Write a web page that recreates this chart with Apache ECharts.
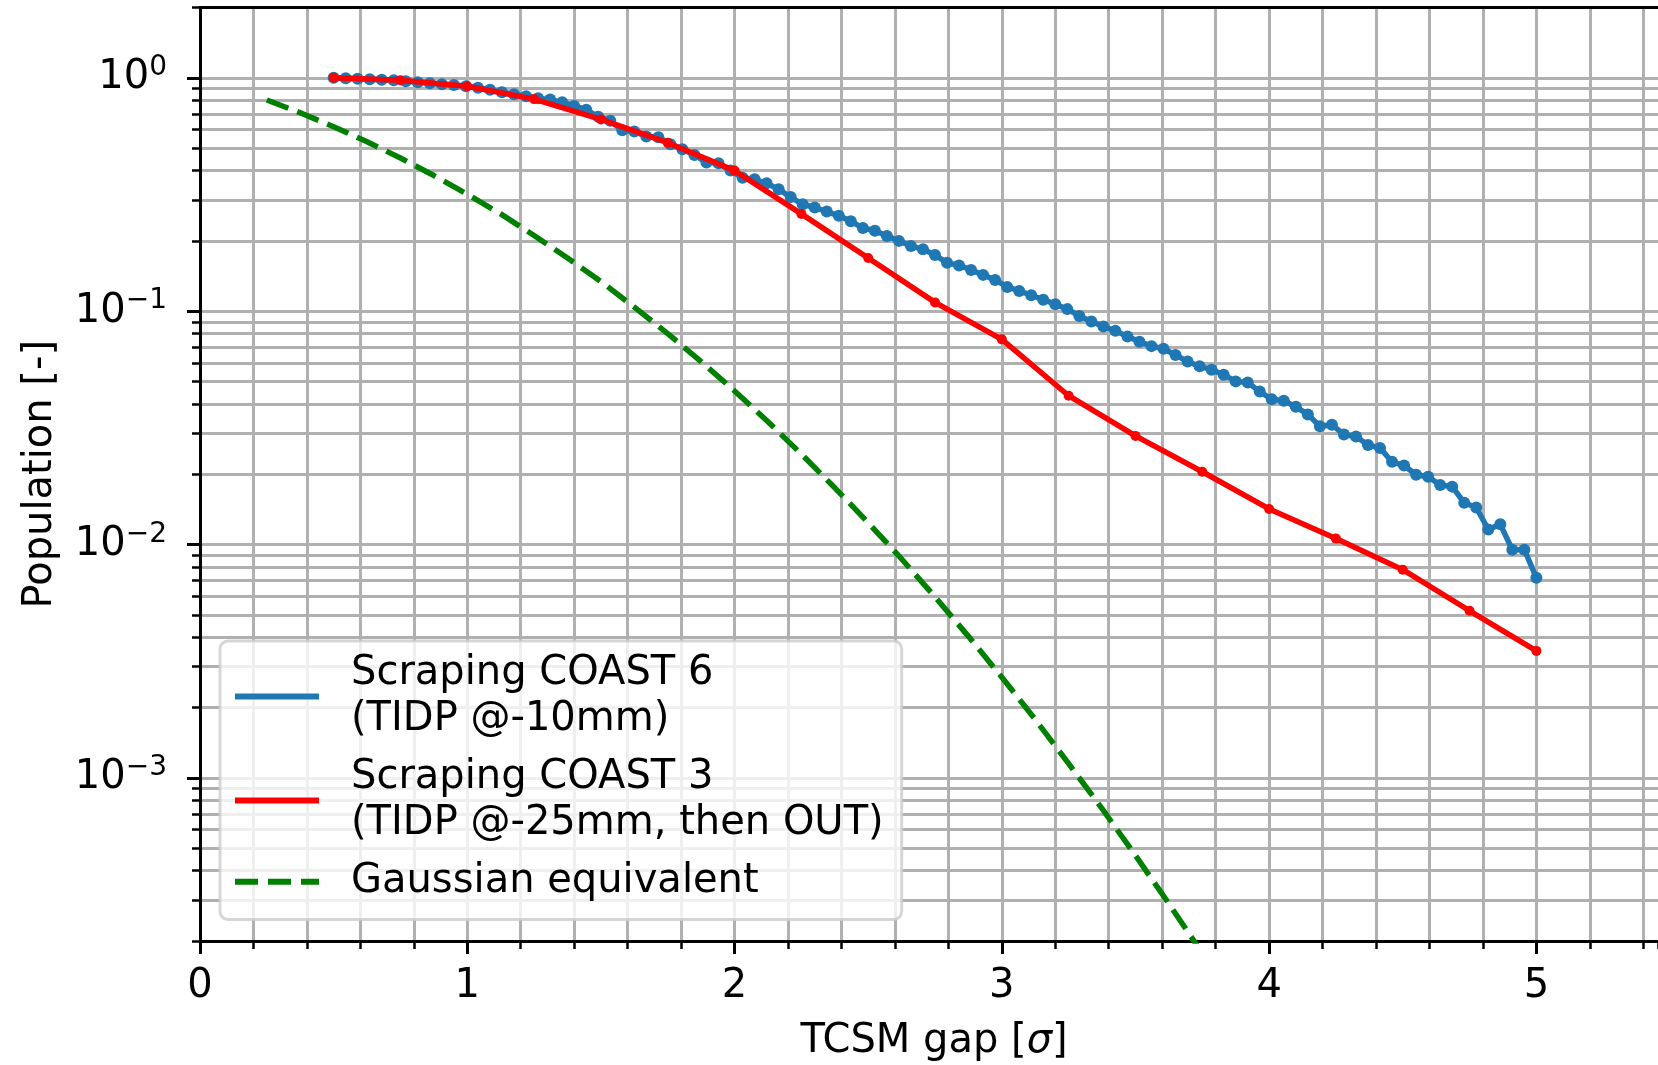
<!DOCTYPE html>
<html><head><meta charset="utf-8">
<script src="https://cdn.jsdelivr.net/npm/echarts@6/dist/echarts.min.js"></script>
<style>html,body{margin:0;padding:0;background:#fff}#c{width:1658px;height:1065px}</style>
</head><body><div id="c"></div>
<script>
const seriesNames = ['Scraping COAST 6\n(TIDP @-10mm)', 'Scraping COAST 3\n(TIDP @-25mm, then OUT)', 'Gaussian equivalent'];
const xLabel = 'TCSM gap [σ]';
const yLabel = 'Population [-]';

const xBlue = [
  0.5, 0.545, 0.59, 0.635, 0.68, 0.725, 0.77, 0.815, 0.86, 0.905,
  0.95, 0.995, 1.04, 1.085, 1.13, 1.175, 1.22, 1.265, 1.31, 1.355,
  1.4, 1.445, 1.49, 1.535, 1.58, 1.625, 1.67, 1.715, 1.76, 1.805,
  1.85, 1.895, 1.94, 1.985, 2.03, 2.075, 2.12, 2.165, 2.21, 2.255,
  2.3, 2.345, 2.39, 2.435, 2.48, 2.525, 2.57, 2.615, 2.66, 2.705,
  2.75, 2.795, 2.84, 2.885, 2.93, 2.975, 3.02, 3.065, 3.11, 3.155,
  3.2, 3.245, 3.29, 3.335, 3.38, 3.425, 3.47, 3.515, 3.56, 3.605,
  3.65, 3.695, 3.74, 3.785, 3.83, 3.875, 3.92, 3.965, 4.01, 4.055,
  4.1, 4.145, 4.19, 4.235, 4.28, 4.325, 4.37, 4.415, 4.46, 4.505,
  4.55, 4.595, 4.64, 4.685, 4.73, 4.775, 4.82, 4.865, 4.91, 4.955,
  5.0];
const yBlue = [
  1.0, 0.995, 0.99, 0.985, 0.98, 0.975, 0.966, 0.956, 0.947, 0.938,
  0.932, 0.92, 0.907, 0.889, 0.867, 0.85, 0.833, 0.817, 0.806, 0.785,
  0.757, 0.73, 0.68, 0.655, 0.595, 0.588, 0.56, 0.556, 0.519, 0.494,
  0.467, 0.433, 0.43, 0.40, 0.373, 0.367, 0.353, 0.333, 0.308, 0.287,
  0.278, 0.267, 0.256, 0.243, 0.227, 0.221, 0.21, 0.2, 0.19, 0.184,
  0.174, 0.161, 0.157, 0.15, 0.143, 0.136, 0.127, 0.122, 0.117, 0.112,
  0.107, 0.102, 0.0954, 0.0903, 0.0859, 0.0823, 0.0778, 0.074, 0.0708, 0.069,
  0.0649, 0.0608, 0.058, 0.0561, 0.0534, 0.05, 0.0495, 0.0452, 0.0419, 0.0413,
  0.0389, 0.0361, 0.0321, 0.0326, 0.0296, 0.029, 0.0267, 0.0259, 0.0226, 0.0218,
  0.0199, 0.0195, 0.018, 0.0177, 0.0151, 0.0144, 0.0116, 0.0122, 0.0095, 0.0095,
  0.0072];

const xRed = [0.5, 0.75, 1.0, 1.25, 1.5, 1.75, 2.0, 2.25, 2.5, 2.75, 3.0, 3.25, 3.5, 3.75, 4.0, 4.25, 4.5, 4.75, 5.0];
const yRed = [1.0, 0.975, 0.92, 0.81, 0.663, 0.527, 0.40, 0.261, 0.169, 0.109, 0.0757, 0.0434, 0.0292, 0.0205, 0.0142, 0.0106, 0.0078, 0.0052, 0.0035];

const xGreen = [0.25, 0.375, 0.5, 0.625, 0.75, 0.875, 1.0, 1.125, 1.25, 1.375, 1.5, 1.625, 1.75, 1.875, 2.0,
  2.125, 2.25, 2.375, 2.5, 2.625, 2.75, 2.875, 3.0, 3.125, 3.25, 3.375, 3.5, 3.625, 3.75];
const yGreen = [0.803, 0.708, 0.617, 0.532, 0.453, 0.381, 0.317, 0.261, 0.211, 0.169, 0.134, 0.104, 0.0801, 0.0608, 0.0455,
  0.0336, 0.0244, 0.0175, 0.0124, 0.00867, 0.00596, 0.00404, 0.0027, 0.00178, 0.00115, 0.000738, 0.000465, 0.000289, 0.000177];

const yMajorTicks = [1e-3, 1e-2, 1e-1, 1];
const yMinorTicks = [2e-4,3e-4,4e-4,5e-4,6e-4,7e-4,8e-4,9e-4,
  1e-3,2e-3,3e-3,4e-3,5e-3,6e-3,7e-3,8e-3,9e-3,
  1e-2,2e-2,3e-2,4e-2,5e-2,6e-2,7e-2,8e-2,9e-2,
  1e-1,0.2,0.3,0.4,0.5,0.6,0.7,0.8,0.9,1,2];

const FONT = 'DejaVu Sans';
const FS = 40;
const X_MAX = 5.455;
const pairs = (xs, ys) => xs.map((x, i) => [x, ys[i]]);
const supFmt = v => {
  const e = Math.round(Math.log10(v));
  return '{b|10}{s|' + (e < 0 ? '\u2212' + (-e) : e) + '}';
};

const chart = echarts.init(document.getElementById('c'), null, {renderer: 'canvas'});
chart.setOption({
  animation: false,
  backgroundColor: '#ffffff',
  grid: {left: 200, right: 0, top: 7.5, bottom: 124, containLabel: false, outerBoundsMode: 'none'},
  xAxis: [
    {type: 'value', min: 0, max: X_MAX, interval: 1, position: 'bottom',
     axisLine: {show: true, lineStyle: {color: '#000', width: 3}},
     axisTick: {show: true, length: 13, lineStyle: {color: '#000', width: 3}},
     axisLabel: {show: true, margin: 26, fontFamily: FONT, fontSize: FS, color: '#000', showMaxLabel: false,
       formatter: v => (Math.abs(v - Math.round(v)) < 1e-6 ? String(Math.round(v)) : '')},
     splitLine: {show: false},
     name: '{n|TCSM gap [}{i|σ}{n|]}', nameLocation: 'middle', nameGap: 81,
     nameTextStyle: {padding: [0, 0, 0, 10], rich: {n: {fontFamily: FONT, fontSize: FS, color: '#000'}, i: {fontFamily: FONT, fontSize: FS, fontStyle: 'italic', color: '#000'}}}},
    {type: 'value', min: 0, max: X_MAX, interval: 0.2, position: 'bottom',
     axisLine: {show: false},
     axisTick: {show: true, length: 8, lineStyle: {color: '#000', width: 2.5}},
     axisLabel: {show: false},
     splitLine: {show: true, showMaxLine: false, lineStyle: {color: '#b0b0b0', width: 3}}},
    {type: 'value', min: 0, max: X_MAX, position: 'top',
     axisLine: {show: true, lineStyle: {color: '#000', width: 3}},
     axisTick: {show: false}, axisLabel: {show: false}, splitLine: {show: false}}
  ],
  yAxis: [
    {type: 'log', logBase: 10, min: 2e-4, max: 2, position: 'left',
     axisLine: {show: true, lineStyle: {color: '#000', width: 3}},
     axisTick: {show: true, length: 13, lineStyle: {color: '#000', width: 3}, customValues: yMajorTicks},
     axisLabel: {show: true, margin: 33, customValues: yMajorTicks, formatter: supFmt,
       rich: {b: {fontFamily: FONT, fontSize: FS, lineHeight: 48, color: '#000'},
              s: {fontFamily: FONT, fontSize: 28, lineHeight: 28, verticalAlign: 'top', color: '#000'}}},
     splitLine: {show: false}, minorTick: {show: false},
     name: yLabel, nameLocation: 'middle', nameGap: 139, nameRotate: 90,
     nameTextStyle: {fontFamily: FONT, fontSize: FS, color: '#000'}},
    {type: 'log', logBase: 10, min: 2e-4, max: 2, position: 'left',
     axisLine: {show: false},
     axisTick: {show: true, length: 8, lineStyle: {color: '#000', width: 2.5}, customValues: yMinorTicks},
     axisLabel: {show: false},
     splitLine: {show: true, lineStyle: {color: '#b0b0b0', width: 3}}}
  ],
  legend: {
    orient: 'vertical', left: 220, top: 641,
    padding: [10, 18, 15, 15], itemGap: 13, itemWidth: 84, itemHeight: 6,
    backgroundColor: 'rgba(255,255,255,0.8)', borderColor: 'rgba(204,204,204,0.8)', borderWidth: 3, borderRadius: 8,
    selectedMode: false,
    textStyle: {fontFamily: FONT, fontSize: FS, lineHeight: 45.5, color: '#000', padding: [0, 0, 0, 27]},
    data: [
      {name: seriesNames[0], icon: 'path://M0 0H84V6H0Z'},
      {name: seriesNames[1], icon: 'path://M0 0H84V6H0Z'},
      {name: seriesNames[2], icon: 'path://M0 0H23V6H0Z M33 0H56V6H33Z M66 0H84V6H66Z'}
    ]
  },
  series: [
    {name: seriesNames[0], type: 'line', data: pairs(xBlue, yBlue), color: '#1f77b4',
     symbol: 'circle', symbolSize: 12, showSymbol: true,
     lineStyle: {color: '#1f77b4', width: 5.5}, itemStyle: {color: '#1f77b4'},
     emphasis: {disabled: true}, z: 3},
    {name: seriesNames[1], type: 'line', data: pairs(xRed, yRed), color: '#ff0000',
     symbol: 'circle', symbolSize: 10, showSymbol: true,
     lineStyle: {color: '#ff0000', width: 5.5}, itemStyle: {color: '#ff0000'},
     emphasis: {disabled: true}, z: 4},
    {name: seriesNames[2], type: 'line', data: pairs(xGreen, yGreen), color: '#008000',
     symbol: 'none', clip: true,
     lineStyle: {color: '#008000', width: 5.5, type: [23, 9.5]},
     emphasis: {disabled: true}, z: 5}
  ]
});
</script></body></html>
